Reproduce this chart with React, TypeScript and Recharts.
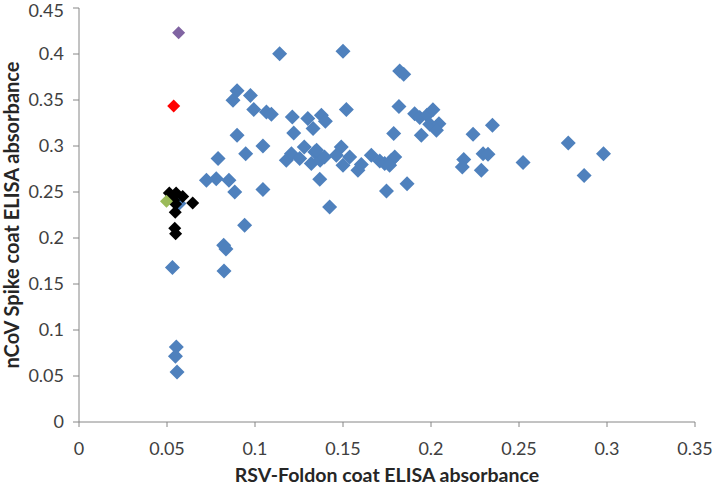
import React from "react";
import { ScatterChart, Scatter, XAxis, YAxis, Label } from "recharts";

// [RSV-Foldon absorbance, nCoV Spike absorbance]
const bluePoints: [number, number][] = [
  [0.0531, 0.168], [0.0553, 0.0815], [0.0548, 0.0714], [0.0557, 0.0543], [0.0568, 0.2375],
  [0.0822, 0.192], [0.0835, 0.188], [0.0824, 0.164], [0.0941, 0.2138],
  [0.0724, 0.2627], [0.078, 0.2645], [0.0852, 0.2627], [0.0885, 0.25], [0.079, 0.2863],
  [0.0898, 0.3116], [0.0947, 0.2917], [0.1045, 0.3], [0.1045, 0.2526],
  [0.0898, 0.36], [0.0875, 0.3497], [0.0974, 0.355], [0.0993, 0.3396], [0.1065, 0.337],
  [0.1093, 0.3345], [0.114, 0.4004],
  [0.1212, 0.3315], [0.13, 0.33], [0.1377, 0.3334], [0.14, 0.327], [0.133, 0.319], [0.122, 0.314],
  [0.15, 0.403], [0.1519, 0.3396],
  [0.1178, 0.2845], [0.1207, 0.2917], [0.1254, 0.2863], [0.128, 0.299], [0.134, 0.2935],
  [0.132, 0.281], [0.137, 0.2845], [0.1395, 0.288], [0.135, 0.2955], [0.1368, 0.2638], [0.1424, 0.2337],
  [0.149, 0.299], [0.1462, 0.29], [0.15, 0.279], [0.1538, 0.288], [0.1585, 0.2736],
  [0.1604, 0.28], [0.1661, 0.29], [0.1709, 0.2837], [0.1737, 0.281], [0.1775, 0.2845],
  [0.1794, 0.288], [0.1765, 0.279], [0.1747, 0.251], [0.1864, 0.259],
  [0.1822, 0.3815], [0.1845, 0.378], [0.1818, 0.343], [0.1788, 0.3135],
  [0.1907, 0.335], [0.1936, 0.331], [0.1977, 0.3334], [0.2011, 0.3395], [0.1993, 0.3236],
  [0.2045, 0.3243], [0.2031, 0.317], [0.1945, 0.3116],
  [0.2239, 0.3127], [0.2349, 0.3225], [0.2296, 0.2917], [0.2324, 0.291], [0.2286, 0.2736],
  [0.2186, 0.2852], [0.2178, 0.2772], [0.2523, 0.282], [0.278, 0.3033], [0.298, 0.2917],
  [0.287, 0.268],
];

const blackPoints: [number, number][] = [
  [0.0513, 0.249], [0.0552, 0.249], [0.0589, 0.245], [0.0646, 0.238], [0.0538, 0.241],
  [0.0549, 0.237], [0.0547, 0.228], [0.0544, 0.2105], [0.0549, 0.2045],
];

const greenPoints: [number, number][] = [[0.0497, 0.24]];
const redPoints: [number, number][] = [[0.0538, 0.3435]];
const purplePoints: [number, number][] = [[0.0566, 0.423]];

const xTicks = [0, 0.05, 0.1, 0.15, 0.2, 0.25, 0.3, 0.35];
const yTicks = [0, 0.05, 0.1, 0.15, 0.2, 0.25, 0.3, 0.35, 0.4, 0.45];

const toRows = (pts: [number, number][]) => pts.map(([x, y]) => ({ x, y }));

const diamond = (fill: string, r: number) => (props: any) => {
  const { cx, cy } = props;
  return (
    <polygon
      points={`${cx},${cy - r} ${cx + r},${cy} ${cx},${cy + r} ${cx - r},${cy}`}
      fill={fill}
    />
  );
};

const fmt = (v: number) => String(Number(v.toFixed(2)));
const FONT = "Lato, 'Liberation Sans', sans-serif";
const tickStyle = { fontSize: 18, fill: "#404040", fontFamily: FONT };

const YTitle = (props: any) => {
  const { viewBox } = props;
  const cx = 11;
  const cy = viewBox.y + viewBox.height / 2;
  return (
    <text
      x={cx}
      y={cy}
      transform={`rotate(-90, ${cx}, ${cy})`}
      textAnchor="middle"
      dominantBaseline="central"
      fontFamily={FONT}
      fontWeight="bold"
      fontSize={20}
      fill="#262626"
    >
      nCoV Spike coat ELISA absorbance
    </text>
  );
};

export default function App() {
  return (
    <div style={{ position: "absolute", left: 0, top: 0, background: "#fff" }}>
      <ScatterChart
        width={713}
        height={485}
        margin={{ top: 8, right: 18, left: 0, bottom: 0 }}
      >
        <XAxis
          type="number"
          dataKey="x"
          domain={[0, 0.35]}
          ticks={xTicks}
          tickFormatter={fmt}
          tick={tickStyle}
          tickSize={5}
          tickMargin={15}
          height={63}
          stroke="#868686"
          axisLine={{ stroke: "#868686" }}
          tickLine={{ stroke: "#868686" }}
        >
          <Label
            value="RSV-Foldon coat ELISA absorbance"
            position="insideBottom"
            offset={3}
            style={{ fontFamily: FONT, fontWeight: "bold", fontSize: 19.5, fill: "#262626" }}
          />
        </XAxis>
        <YAxis
          type="number"
          dataKey="y"
          domain={[0, 0.45]}
          ticks={yTicks}
          tickFormatter={fmt}
          tick={tickStyle}
          tickSize={6}
          tickMargin={9}
          width={79}
          stroke="#868686"
          axisLine={{ stroke: "#868686" }}
          tickLine={{ stroke: "#868686" }}
        >
          <Label content={<YTitle />} />
        </YAxis>
        <Scatter data={toRows(bluePoints)} shape={diamond("#4F81BD", 7.5)} isAnimationActive={false} />
        <Scatter data={toRows(blackPoints)} shape={diamond("#000000", 6.5)} isAnimationActive={false} />
        <Scatter data={toRows(greenPoints)} shape={diamond("#9BBB59", 6.5)} isAnimationActive={false} />
        <Scatter data={toRows(redPoints)} shape={diamond("#FF0000", 6.5)} isAnimationActive={false} />
        <Scatter data={toRows(purplePoints)} shape={diamond("#8064A2", 6.5)} isAnimationActive={false} />
      </ScatterChart>
    </div>
  );
}
